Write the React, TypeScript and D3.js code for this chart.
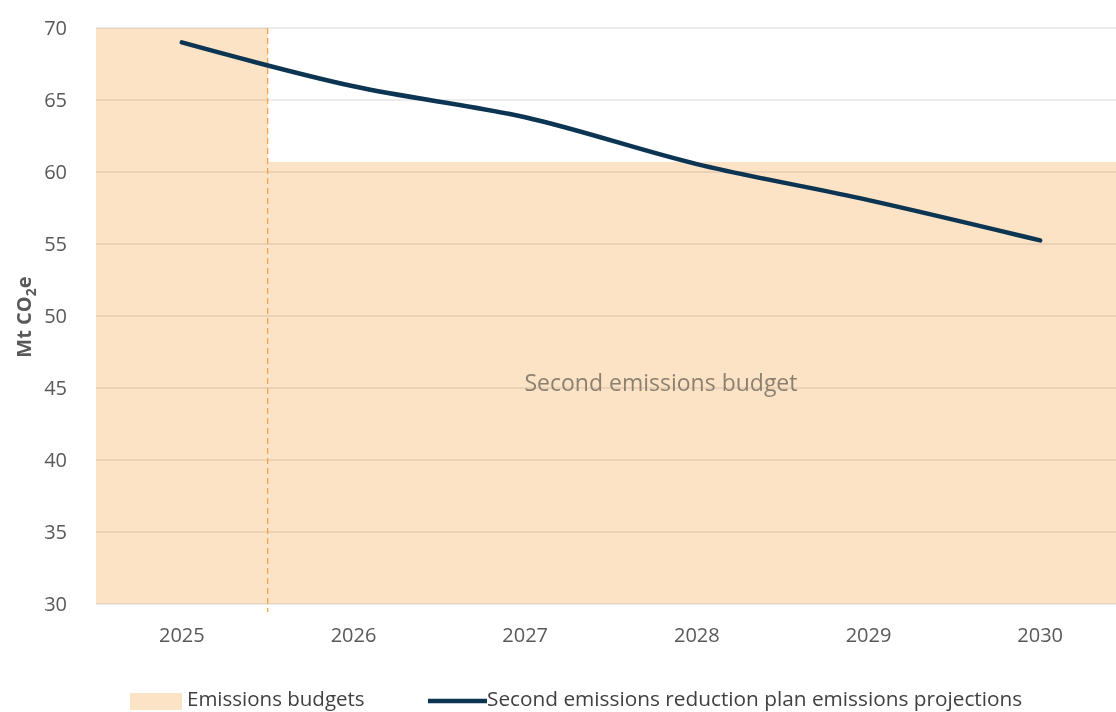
import React from "react";
import * as d3 from "d3";

const years = ["2025", "2026", "2027", "2028", "2029", "2030"];
const projections = [69.0, 65.95, 63.8, 60.55, 58.05, 55.25];
const budgetLevels = [70, 60.7, 60.7, 60.7, 60.7, 60.7];
const yTicks = [30, 35, 40, 45, 50, 55, 60, 65, 70];
const legendLabels = ["Emissions budgets", "Second emissions reduction plan emissions projections"];
const budgetLabel = "Second emissions budget";
const yTitle = "Mt CO";

const W = 1116;
const H = 712;
const FONT = "'Open Sans', sans-serif";

export default function App() {
  const x = d3.scaleBand<string>().domain(years).range([96, 1126]).paddingInner(0).paddingOuter(0);
  const y = d3.scaleLinear().domain([30, 70]).range([604, 28]);
  const cx = (d: string) => (x(d) ?? 0) + x.bandwidth() / 2;

  const line = d3
    .line<number>()
    .x((_, i) => cx(years[i]))
    .y((d) => y(d))
    .curve(d3.curveMonotoneX);

  const boundary = x(years[1]) ?? 0;

  return (
    <svg width={W} height={H} style={{ position: "absolute", left: 0, top: 0, background: "#fff" }} fontFamily={FONT}>
      {/* budget shading */}
      {years.map((yr, i) => (
        <rect
          key={yr}
          x={x(yr)}
          y={y(budgetLevels[i])}
          width={x.bandwidth() + 0.5}
          height={y(30) - y(budgetLevels[i])}
          fill="#fde3c6"
        />
      ))}
      {/* gridlines */}
      {yTicks.map((t) => (
        <line
          key={t}
          x1={96}
          x2={1126}
          y1={y(t)}
          y2={y(t)}
          stroke="#d9d9d9"
          strokeWidth={1.2}
          style={{ mixBlendMode: "multiply" }}
        />
      ))}
      {/* dashed boundary */}
      <line x1={boundary} x2={boundary} y1={y(70)} y2={612} stroke="#f2a241" strokeWidth={1.2} strokeDasharray="6,4" />
      {/* budget label */}
      <text x={661} y={y(45) + 3} textAnchor="middle" fontSize={23} fill="#8c8170">
        {budgetLabel}
      </text>
      {/* projection line */}
      <path d={line(projections) ?? ""} fill="none" stroke="#0b3552" strokeWidth={4.5} strokeLinecap="round" />
      {/* y ticks */}
      {yTicks.map((t) => (
        <text key={t} x={67} y={y(t)} dy="0.35em" textAnchor="end" fontSize={20} fill="#595959">
          {t}
        </text>
      ))}
      {/* x ticks */}
      {years.map((yr) => (
        <text key={yr} x={cx(yr)} y={635} dy="0.35em" textAnchor="middle" fontSize={20} fill="#595959">
          {yr}
        </text>
      ))}
      {/* y title */}
      <text
        transform={`translate(31,${317}) rotate(-90)`}
        textAnchor="middle"
        fontSize={20}
        fontWeight="bold"
        fill="#595959"
      >
        {yTitle}
        <tspan fontSize={14} dy={5}>2</tspan>
        <tspan dy={-5}>e</tspan>
      </text>
      {/* legend */}
      <rect x={130} y={693} width={52} height={17} fill="#fde3c6" />
      <text x={187} y={706} fontSize={20.5} fill="#404040">
        {legendLabels[0]}
      </text>
      <line x1={428} x2={487} y1={701} y2={701} stroke="#0b3552" strokeWidth={4.5} />
      <text x={487} y={706} fontSize={20.8} fill="#404040">
        {legendLabels[1]}
      </text>
    </svg>
  );
}
